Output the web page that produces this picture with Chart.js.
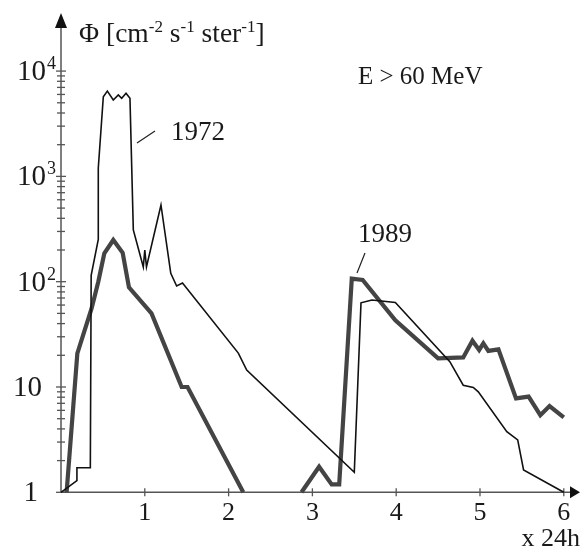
<!DOCTYPE html>
<html lang="en">
<head>
<meta charset="UTF-8">
<title>Proton flux E > 60 MeV</title>
<script src="https://cdn.jsdelivr.net/npm/chart.js"></script>
<style>
  body { margin: 0; background: #fff; }
  canvas { display: block; }
</style>
</head>
<body>
<canvas id="fluxChart" width="581" height="549"></canvas>
<script>
// thin line: 1972 event (and the later event drawn with the same line)
const x1972 = [0, 0.19, 0.19, 0.35, 0.36, 0.445, 0.445, 0.505, 0.553, 0.624, 0.684, 0.724, 0.776, 0.823,
               0.863, 0.982, 1.0, 1.02, 1.193, 1.31, 1.38, 1.45, 2.116, 2.216, 3.5, 3.58, 3.71, 3.99,
               4.64, 4.80, 4.92, 4.98, 5.32, 5.45, 5.52, 6.0];
const y1972 = [1, 1.29, 1.71, 1.71, 115, 252, 1200, 5700, 6460, 5320, 5930, 5520, 6160, 5520,
               310, 138, 200, 138, 535, 120, 91, 97, 21, 14.5, 1.55, 63, 67, 63.5,
               17.4, 10.4, 9.9, 9.0, 3.76, 3.14, 1.63, 1];

// thick line: 1989 event (null = gap)
const x1989 = [0.067, 0.195, 0.366, 0.445, 0.517, 0.624, 0.736, 0.811, 1.08, 1.44, 1.51, 2.175, 2.5,
               2.87, 3.08, 3.23, 3.32, 3.47, 3.60, 3.99, 4.50, 4.80, 4.91, 4.99, 5.04, 5.10, 5.22,
               5.43, 5.58, 5.72, 5.83, 6.0];
const y1989 = [1, 20.9, 56, 100, 186, 249, 188, 88.5, 50, 10, 10, 1, null,
               1, 1.75, 1.19, 1.19, 107, 104, 43, 18.7, 19.1, 27.5, 22.5, 26, 22, 22.8,
               7.8, 8.1, 5.4, 6.6, 5.15];

// axis ticks and labels
const xTicks = [1, 2, 3, 4, 5, 6];
const yMajor = [1, 10, 100, 1000, 10000];
const yLabelBase = ['1', '10', '10', '10', '10'];
const yLabelExp = ['', '', '2', '3', '4'];

const serif = '"Liberation Serif", "DejaVu Serif", serif';
const axisColor = '#555';
const textColor = '#1a1a1a';

function toPoints(xs, ys) {
    return xs.map((x, i) => ({ x: x, y: ys[i] }));
}

// draw text pieces, some raised as superscripts
function drawParts(ctx, parts, x, y, size) {
    let cx = x;
    parts.forEach(p => {
        const s = p[1] ? size * 0.62 : size;
        ctx.font = s + 'px ' + serif;
        ctx.fillText(p[0], cx, p[1] ? y - size * 0.36 : y);
        cx += ctx.measureText(p[0]).width;
    });
}

const axesPlugin = {
    id: 'axesPlugin',
    beforeDatasetsDraw(chart) {
        const ctx = chart.ctx;
        const xs = chart.scales.x;
        const ys = chart.scales.y;
        const x0 = xs.getPixelForValue(0);
        const y0 = ys.getPixelForValue(1);
        ctx.save();
        ctx.strokeStyle = axisColor;
        ctx.fillStyle = axisColor;
        ctx.lineWidth = 1.5;

        // y axis + arrow
        ctx.beginPath();
        ctx.moveTo(x0, y0);
        ctx.lineTo(x0, 24);
        ctx.stroke();
        ctx.fillStyle = '#111';
        ctx.beginPath();
        ctx.moveTo(x0, 13);
        ctx.lineTo(x0 - 6, 28);
        ctx.lineTo(x0 + 6, 28);
        ctx.closePath();
        ctx.fill();

        // x axis + arrow
        ctx.beginPath();
        ctx.moveTo(x0, y0);
        ctx.lineTo(574, y0);
        ctx.stroke();
        ctx.beginPath();
        ctx.moveTo(580, y0);
        ctx.lineTo(570, y0 - 6);
        ctx.lineTo(570, y0 + 6);
        ctx.closePath();
        ctx.fill();

        // y ticks: majors and 2..9 minors
        ctx.lineWidth = 1.3;
        yMajor.forEach((v, i) => {
            const py = ys.getPixelForValue(v);
            ctx.beginPath();
            ctx.moveTo(x0 - 5, py);
            ctx.lineTo(x0 + 5, py);
            ctx.stroke();
            if (i < yMajor.length - 1) {
                for (let m = 2; m <= 9; m++) {
                    const pm = ys.getPixelForValue(v * m);
                    ctx.beginPath();
                    ctx.moveTo(x0 - 4, pm);
                    ctx.lineTo(x0 + 4, pm);
                    ctx.stroke();
                }
            }
        });

        // x ticks
        xTicks.forEach(v => {
            const px = xs.getPixelForValue(v);
            ctx.beginPath();
            ctx.moveTo(px, y0 - 4);
            ctx.lineTo(px, y0 + 4);
            ctx.stroke();
        });
        ctx.restore();
    },
    afterDraw(chart) {
        const ctx = chart.ctx;
        const xs = chart.scales.x;
        const ys = chart.scales.y;
        ctx.save();
        ctx.fillStyle = textColor;
        ctx.textBaseline = 'alphabetic';

        // x tick labels
        ctx.font = '26px ' + serif;
        ctx.textAlign = 'center';
        xTicks.forEach(v => {
            ctx.fillText(String(v), xs.getPixelForValue(v), 520);
        });

        // y tick labels
        ctx.textAlign = 'right';
        yMajor.forEach((v, i) => {
            const py = ys.getPixelForValue(v) + 9;
            ctx.font = '29px ' + serif;
            if (yLabelExp[i]) {
                ctx.fillText(yLabelBase[i], 46, py);
                ctx.textAlign = 'left';
                ctx.font = '18px ' + serif;
                ctx.fillText(yLabelExp[i], 47, py - 11);
                ctx.textAlign = 'right';
            } else {
                ctx.fillText(yLabelBase[i], v === 1 ? 38 : 42, py);
            }
        });

        ctx.textAlign = 'left';
        // axis titles
        drawParts(ctx, [['Φ [cm', false], ['-2', true], [' s', false], ['-1', true],
                        [' ster', false], ['-1', true], [']', false]], 79, 42, 27.5);
        ctx.font = '26px ' + serif;
        ctx.textAlign = 'right';
        ctx.fillText('x 24h', 580, 546);

        // annotations
        ctx.textAlign = 'left';
        ctx.font = '25px ' + serif;
        ctx.fillText('E > 60 MeV', 358, 84);
        ctx.font = '27px ' + serif;
        ctx.fillText('1972', 171, 140);
        ctx.fillText('1989', 358, 242);

        // leader lines
        ctx.strokeStyle = '#222';
        ctx.lineWidth = 1.2;
        ctx.beginPath();
        ctx.moveTo(137, 143);
        ctx.lineTo(155, 131);
        ctx.moveTo(357, 273);
        ctx.lineTo(365, 253);
        ctx.stroke();
        ctx.restore();
    }
};

new Chart(document.getElementById('fluxChart').getContext('2d'), {
    type: 'line',
    data: {
        datasets: [
            {
                label: '1972',
                data: toPoints(x1972, y1972),
                borderColor: '#111',
                borderWidth: 1.6,
                pointRadius: 0,
                tension: 0,
                clip: false
            },
            {
                label: '1989',
                data: toPoints(x1989, y1989),
                borderColor: '#444',
                borderWidth: 4.2,
                pointRadius: 0,
                tension: 0,
                spanGaps: false,
                clip: false
            }
        ]
    },
    options: {
        responsive: false,
        animation: false,
        devicePixelRatio: 1,
        layout: { padding: { left: 61, top: 26, right: 9, bottom: 56.7 } },
        plugins: { legend: { display: false }, tooltip: { enabled: false } },
        scales: {
            x: { type: 'linear', min: 0, max: 6.098, display: false },
            y: { type: 'logarithmic', min: 1, max: 26800, display: false }
        }
    },
    plugins: [axesPlugin]
});
</script>
</body>
</html>
